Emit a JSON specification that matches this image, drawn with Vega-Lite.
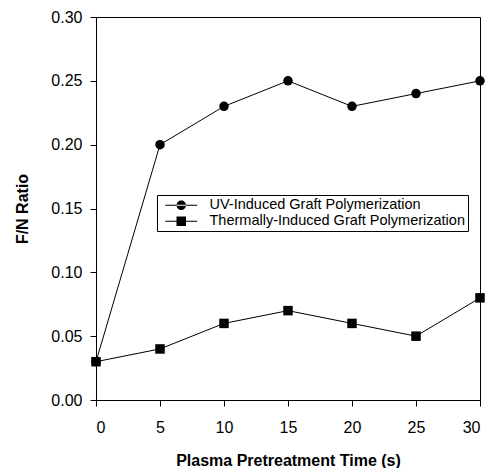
{
  "$schema": "https://vega.github.io/schema/vega-lite/v6.json",
  "width": 384,
  "height": 383,
  "autosize": {"type": "none"},
  "padding": {"left": 96, "top": 17, "right": 11, "bottom": 68},
  "background": "white",
  "config": {
    "view": {"stroke": "black", "strokeWidth": 1},
    "font": "Liberation Sans",
    "axis": {
      "grid": false,
      "domainColor": "black",
      "tickColor": "black",
      "tickSize": 6,
      "labelFont": "Liberation Sans",
      "labelFontSize": 16,
      "labelColor": "black",
      "titleFont": "Liberation Sans",
      "titleFontSize": 16,
      "titleFontWeight": "bold",
      "titleColor": "black"
    }
  },
  "data": {
    "values": [
      {"time": 0, "ratio": 0.03, "series": "UV-Induced Graft Polymerization"},
      {"time": 5, "ratio": 0.20, "series": "UV-Induced Graft Polymerization"},
      {"time": 10, "ratio": 0.23, "series": "UV-Induced Graft Polymerization"},
      {"time": 15, "ratio": 0.25, "series": "UV-Induced Graft Polymerization"},
      {"time": 20, "ratio": 0.23, "series": "UV-Induced Graft Polymerization"},
      {"time": 25, "ratio": 0.24, "series": "UV-Induced Graft Polymerization"},
      {"time": 30, "ratio": 0.25, "series": "UV-Induced Graft Polymerization"},
      {"time": 0, "ratio": 0.03, "series": "Thermally-Induced Graft Polymerization"},
      {"time": 5, "ratio": 0.04, "series": "Thermally-Induced Graft Polymerization"},
      {"time": 10, "ratio": 0.06, "series": "Thermally-Induced Graft Polymerization"},
      {"time": 15, "ratio": 0.07, "series": "Thermally-Induced Graft Polymerization"},
      {"time": 20, "ratio": 0.06, "series": "Thermally-Induced Graft Polymerization"},
      {"time": 25, "ratio": 0.05, "series": "Thermally-Induced Graft Polymerization"},
      {"time": 30, "ratio": 0.08, "series": "Thermally-Induced Graft Polymerization"}
    ]
  },
  "encoding": {
    "x": {
      "field": "time", "type": "quantitative",
      "scale": {"domain": [0, 30], "nice": false},
      "axis": {"values": [0, 5, 10, 15, 20, 25, 30], "title": "Plasma Pretreatment Time (s)", "labelPadding": 13, "titlePadding": 17}
    },
    "y": {
      "field": "ratio", "type": "quantitative",
      "scale": {"domain": [0, 0.3], "nice": false},
      "axis": {"values": [0, 0.05, 0.1, 0.15, 0.2, 0.25, 0.3], "format": ".2f", "title": "F/N Ratio", "labelPadding": 8, "titlePadding": 20}
    }
  },
  "layer": [
    {
      "mark": {"type": "line", "color": "black", "strokeWidth": 1},
      "encoding": {"detail": {"field": "series"}}
    },
    {
      "mark": {"type": "point", "filled": true, "color": "black", "opacity": 1, "size": 90},
      "encoding": {
        "shape": {
          "field": "series", "type": "nominal",
          "scale": {"domain": ["UV-Induced Graft Polymerization", "Thermally-Induced Graft Polymerization"], "range": ["circle", "square"]},
          "legend": null
        }
      }
    },
    {
      "mark": {"type": "point", "filled": true, "color": "black", "opacity": 0, "size": 100},
      "encoding": {
        "shape": {
          "field": "series", "type": "nominal",
          "scale": {"domain": ["UV-Induced Graft Polymerization", "Thermally-Induced Graft Polymerization"], "range": ["M-3.2,-0.08L3.2,-0.08L3.2,0.08L-3.2,0.08Z M-0.95,0 A0.95,0.95 0 1 0 0.95,0 A0.95,0.95 0 1 0 -0.95,0 Z", "M-3.2,-0.08L3.2,-0.08L3.2,0.08L-3.2,0.08Z M-0.95,-0.95L0.95,-0.95L0.95,0.95L-0.95,0.95Z"]},
          "legend": {
            "title": null,
            "orient": "none",
            "legendX": 61,
            "legendY": 178,
            "fillColor": "white",
            "strokeColor": "black",
            "padding": 3,
            "symbolSize": 100,
            "symbolOffset": 14,
            "labelOffset": 21,
            "rowPadding": 1,
            "labelFont": "Liberation Sans",
            "labelFontSize": 14.5,
            "labelColor": "black",
            "labelLimit": 400,
            "symbolOpacity": 1,
            "symbolFillColor": "black",
            "symbolStrokeColor": "black",
            "symbolStrokeWidth": 1,
            "encode": {
              "symbols": {
                "fill": {"value": "black"},
                "stroke": {"value": "black"},
                "strokeWidth": {"value": 0.5},
                "opacity": {"value": 1}
              }
            }
          }
        }
      }
    }
  ],
  "resolve": {"scale": {"shape": "independent"}}
}
